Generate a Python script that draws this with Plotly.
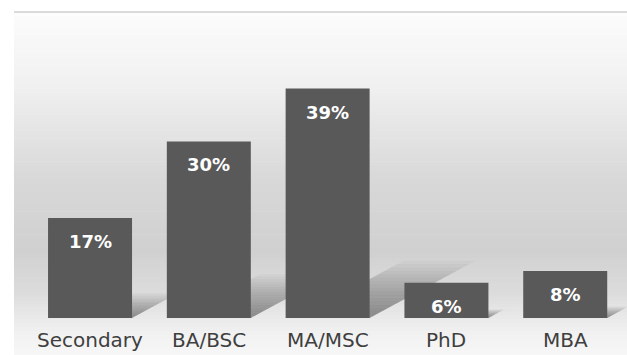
import plotly.graph_objects as go

categories = ["Secondary", "BA/BSC", "MA/MSC", "PhD", "MBA"]
values = [17, 30, 39, 6, 8]
labels = ["17%", "30%", "39%", "6%", "8%"]

BAR_W = 0.707
Y_MAX = 52

fig = go.Figure()
fig.add_trace(go.Bar(
    x=list(range(len(categories))), y=values, width=BAR_W,
    marker=dict(color="#595959", line=dict(width=0)),
    hoverinfo="skip",
))

shapes = []
# background gradient stripes (paper coords)
stops = [(1.0, (252, 252, 252)), (0.75, (240, 240, 240)), (0.45, (216, 216, 216)),
         (0.22, (208, 208, 208)), (0.08, (220, 220, 220)), (-0.04, (240, 240, 240)),
         (-0.13, (248, 248, 248))]
N = 90
y_lo, y_hi = -0.13, 1.0
for i in range(N):
    a = y_lo + (y_hi - y_lo) * i / N
    b = y_lo + (y_hi - y_lo) * (i + 1) / N
    m = (a + b) / 2
    for j in range(len(stops) - 1):
        t0, c0 = stops[j]
        t1, c1 = stops[j + 1]
        if t1 <= m <= t0:
            f = (m - t1) / (t0 - t1)
            c = tuple(int(round(c1[k] + (c0[k] - c1[k]) * f)) for k in range(3))
            break
    shapes.append(dict(type="rect", xref="paper", yref="paper", x0=0, x1=1, y0=a, y1=b + 0.002,
                       fillcolor="rgb(%d,%d,%d)" % c, line=dict(width=0), layer="below"))

# top border line
shapes.append(dict(type="line", xref="paper", yref="paper", x0=0, x1=1, y0=1, y1=1,
                   line=dict(color="#cfcfcf", width=1.5), layer="below"))

# perspective shadows derived from values
LAYERS = 16
for i, v in enumerate(values):
    x0 = i - BAR_W / 2
    x1 = i + BAR_W / 2
    for k in range(LAYERS):
        fr = 0.12 + 0.92 * k / (LAYERS - 1)
        dx = 0.022 * v * fr
        dy = 0.24 * v * fr
        path = "M %f,0 L %f,0 L %f,%f L %f,%f Z" % (x0 + 0.1, x1, x1 + dx, dy, x0 + 0.1 + dx, dy)
        shapes.append(dict(type="path", xref="x", yref="y", path=path,
                           fillcolor="rgba(0,0,0,0.028)", line=dict(width=0), layer="below"))

annotations = []
for i, (v, t) in enumerate(zip(values, labels)):
    annotations.append(dict(x=i, y=v, xref="x", yref="y", text="<b>%s</b>" % t, showarrow=False,
                            yanchor="top", yshift=-11,
                            font=dict(family="DejaVu Sans", size=18, color="#ffffff")))
for i, c in enumerate(categories):
    annotations.append(dict(x=i, y=0, xref="x", yref="paper", text=c, showarrow=False,
                            yanchor="top", yshift=-8,
                            font=dict(family="DejaVu Sans", size=20, color="#3f3f3f")))

fig.update_layout(
    width=627, height=355,
    margin=dict(l=14, r=0, t=12, b=37),
    paper_bgcolor="#ffffff", plot_bgcolor="rgba(0,0,0,0)",
    showlegend=False,
    xaxis=dict(range=[-0.64, 4.52], visible=False, fixedrange=True),
    yaxis=dict(range=[0, Y_MAX], visible=False, fixedrange=True),
    shapes=shapes, annotations=annotations,
)

fig.write_html("out.html", config={"displayModeBar": False})
